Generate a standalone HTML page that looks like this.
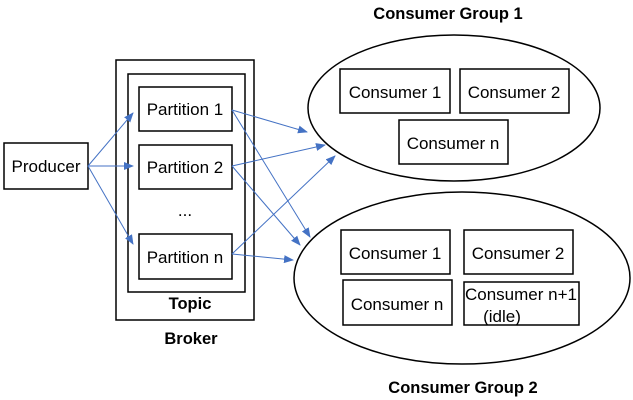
<!DOCTYPE html>
<html><head><style>
body{margin:0;background:#fff;}
svg{display:block;font-family:"Liberation Sans",sans-serif;}
</style></head><body>
<svg width="633" height="400" viewBox="0 0 633 400">
<defs><marker id="a" markerWidth="10" markerHeight="8" refX="9" refY="4" orient="auto" markerUnits="userSpaceOnUse"><path d="M0,0 L10,4 L0,8 z" fill="#4472c4"/></marker></defs>
<g fill="none" stroke="#000" stroke-width="1.5">
<rect x="4" y="143" width="84" height="46"/>
<rect x="116" y="60" width="138" height="260"/>
<rect x="128" y="74" width="117" height="218"/>
<rect x="139" y="87" width="93" height="44"/>
<rect x="139" y="145" width="93" height="44"/>
<rect x="139" y="234" width="93" height="45"/>
<ellipse cx="454" cy="108" rx="146" ry="73"/>
<ellipse cx="462" cy="278" rx="168" ry="86"/>
<rect x="340" y="69" width="110" height="44"/>
<rect x="460" y="69" width="109" height="44"/>
<rect x="399" y="120" width="109" height="44"/>
<rect x="341" y="230" width="109" height="44"/>
<rect x="464" y="230" width="109" height="44"/>
<rect x="343" y="280" width="109" height="45"/>
<rect x="464" y="282" width="115" height="43"/>
</g>
<g stroke="#4472c4" stroke-width="1" marker-end="url(#a)">
<line x1="88" y1="166" x2="133" y2="113"/>
<line x1="88" y1="166" x2="133" y2="166"/>
<line x1="88" y1="166" x2="133" y2="244"/>
<line x1="232" y1="110" x2="307" y2="132"/>
<line x1="232" y1="166" x2="325" y2="145"/>
<line x1="232" y1="254" x2="335" y2="156"/>
<line x1="232" y1="110" x2="310" y2="237"/>
<line x1="232" y1="166" x2="300" y2="245"/>
<line x1="232" y1="254" x2="293" y2="260"/>
</g>
<g font-size="17" text-anchor="middle" fill="#000">
<text x="46" y="172">Producer</text>
<text x="185" y="115">Partition 1</text>
<text x="185" y="173">Partition 2</text>
<text x="185" y="216">...</text>
<text x="185" y="263">Partition n</text>
<text x="395" y="98">Consumer 1</text>
<text x="514" y="98">Consumer 2</text>
<text x="453" y="149">Consumer n</text>
<text x="395" y="259">Consumer 1</text>
<text x="518" y="259">Consumer 2</text>
<text x="397" y="310">Consumer n</text>
<text x="521" y="300">Consumer n+1</text>
<text x="502" y="322">(idle)</text>
</g>
<g font-size="16.5" font-weight="bold" text-anchor="middle" fill="#000">
<text x="190" y="309">Topic</text>
<text x="191" y="344">Broker</text>
<text x="448" y="19">Consumer Group 1</text>
<text x="463" y="393">Consumer Group 2</text>
</g>
</svg>
</body></html>
